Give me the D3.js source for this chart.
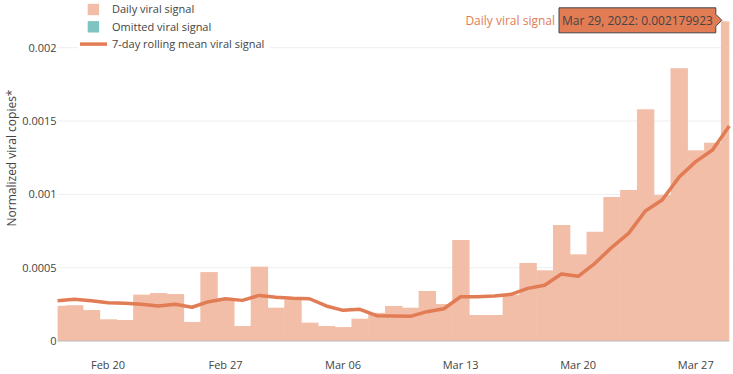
<!DOCTYPE html>
<html>
<head>
<meta charset="utf-8">
<script src="https://cdn.jsdelivr.net/npm/d3@7"></script>
<style>
  body { margin: 0; background: #fff; }
  svg { display: block; font-family: "Open Sans", sans-serif; }
</style>
</head>
<body>
<div id="chart"></div>
<script>
const dates = [
  '2022-02-17', '2022-02-18', '2022-02-19', '2022-02-20', '2022-02-21', '2022-02-22', '2022-02-23',
  '2022-02-24', '2022-02-25', '2022-02-26', '2022-02-27', '2022-02-28', '2022-03-01', '2022-03-02',
  '2022-03-03', '2022-03-04', '2022-03-05', '2022-03-06', '2022-03-07', '2022-03-08', '2022-03-09',
  '2022-03-10', '2022-03-11', '2022-03-12', '2022-03-13', '2022-03-14', '2022-03-15', '2022-03-16',
  '2022-03-17', '2022-03-18', '2022-03-19', '2022-03-20', '2022-03-21', '2022-03-22', '2022-03-23',
  '2022-03-24', '2022-03-25', '2022-03-26', '2022-03-27', '2022-03-28', '2022-03-29'
];

const dailySignal = [
  0.000240, 0.000244, 0.000211, 0.000148, 0.000143, 0.000316, 0.000327,
  0.000320, 0.000130, 0.000470, 0.000285, 0.000102, 0.000507, 0.000227,
  0.000284, 0.000125, 0.000102, 0.000095, 0.000152, 0.000192, 0.000239,
  0.000227, 0.000341, 0.000252, 0.000689, 0.000177, 0.000177, 0.000315,
  0.000532, 0.000482, 0.000791, 0.000591, 0.000745, 0.000982, 0.001030,
  0.001580, 0.000995, 0.001860, 0.001300, 0.001352, 0.002179923
];

const rollingMean = [
  0.000275, 0.000284, 0.000275, 0.000261, 0.000257, 0.000250, 0.000239,
  0.000250, 0.000230, 0.000268, 0.000288, 0.000277, 0.000311, 0.000298,
  0.000291, 0.000288, 0.000239, 0.000209, 0.000216, 0.000173, 0.000170,
  0.000168, 0.000200, 0.000220, 0.000302, 0.000302, 0.000307, 0.000318,
  0.000359, 0.000380, 0.000457, 0.000441, 0.000530, 0.000639, 0.000734,
  0.000886, 0.000961, 0.001116, 0.001223, 0.001302, 0.001466
];

const yTicks = [0, 0.0005, 0.001, 0.0015, 0.002];
const xTicks = ['2022-02-20', '2022-02-27', '2022-03-06', '2022-03-13', '2022-03-20', '2022-03-27'];

const legendItems = ['Daily viral signal', 'Omitted viral signal', '7-day rolling mean viral signal'];

const barColor = '#f2bea8';
const lineColor = '#e27c55';
const omittedColor = '#7fc4c0';
const textColor = '#444';

function drawChart(selector) {
  const width = 733;
  const height = 374;
  const left = 57.6;
  const right = 729.3;
  const bottom = 341;

  const parse = d3.utcParse('%Y-%m-%d');
  const data = dates.map((d, i) => ({
    date: parse(d),
    value: dailySignal[i],
    mean: rollingMean[i]
  }));

  const svg = d3.select(selector).append('svg')
    .attr('width', width)
    .attr('height', height);

  const x = d3.scaleUtc()
    .domain([data[0].date, data[data.length - 1].date])
    .range([left, right]);

  const y = d3.scaleLinear()
    .domain([0, 0.002])
    .range([bottom, 47.7]);

  const dayWidth = x(d3.utcDay.offset(data[0].date, 1)) - x(data[0].date);

  svg.append('clipPath')
    .attr('id', 'plot-clip')
    .append('rect')
    .attr('x', left)
    .attr('y', 0)
    .attr('width', right - left)
    .attr('height', bottom);

  // gridlines
  svg.append('g')
    .selectAll('line')
    .data(yTicks.slice(1))
    .join('line')
    .attr('x1', left)
    .attr('x2', right)
    .attr('y1', d => y(d))
    .attr('y2', d => y(d))
    .attr('stroke', '#eee')
    .attr('stroke-width', 1);

  // bars (a little overlap so no seams show)
  svg.append('g')
    .attr('clip-path', 'url(#plot-clip)')
    .selectAll('rect')
    .data(data)
    .join('rect')
    .attr('x', d => x(d.date) - dayWidth / 2)
    .attr('y', d => y(d.value))
    .attr('width', dayWidth + 0.6)
    .attr('height', d => y(0) - y(d.value))
    .attr('fill', barColor);

  // zero line
  svg.append('line')
    .attr('x1', left)
    .attr('x2', right)
    .attr('y1', y(0))
    .attr('y2', y(0))
    .attr('stroke', '#bbb')
    .attr('stroke-width', 1);

  // rolling mean
  const line = d3.line()
    .x(d => x(d.date))
    .y(d => y(d.mean));

  svg.append('path')
    .datum(data)
    .attr('d', line)
    .attr('fill', 'none')
    .attr('stroke', lineColor)
    .attr('stroke-width', 3.5)
    .attr('stroke-linejoin', 'round');

  // y axis labels
  svg.append('g')
    .selectAll('text')
    .data(yTicks)
    .join('text')
    .attr('x', left - 1)
    .attr('y', d => y(d))
    .attr('dy', '0.35em')
    .attr('text-anchor', 'end')
    .attr('font-size', 11)
    .attr('fill', textColor)
    .text(d => String(d));

  svg.append('text')
    .attr('transform', `translate(16, 158) rotate(-90)`)
    .attr('text-anchor', 'middle')
    .attr('font-size', 12)
    .attr('fill', textColor)
    .text('Normalized viral copies*');

  // x axis labels
  svg.append('g')
    .selectAll('text')
    .data(xTicks.map(parse))
    .join('text')
    .attr('x', d => x(d))
    .attr('y', 369)
    .attr('text-anchor', 'middle')
    .attr('font-size', 11)
    .attr('fill', textColor)
    .text(d3.utcFormat('%b %d'));

  // legend
  const legend = svg.append('g').attr('class', 'legend');
  legend.append('rect')
    .attr('x', 78)
    .attr('y', 0)
    .attr('width', 192)
    .attr('height', 53)
    .attr('fill', '#fff');

  const legendRow = legend.selectAll('g')
    .data(legendItems)
    .join('g')
    .attr('transform', (d, i) => `translate(0, ${9.5 + i * 17.3})`);

  legendRow.filter((d, i) => i < 2)
    .append('rect')
    .attr('x', 87.7)
    .attr('y', -5.7)
    .attr('width', 11.4)
    .attr('height', 11.4)
    .attr('fill', (d, i) => i === 0 ? barColor : omittedColor);

  legendRow.filter((d, i) => i === 2)
    .append('line')
    .attr('x1', 80)
    .attr('x2', 107)
    .attr('y1', 0)
    .attr('y2', 0)
    .attr('stroke', lineColor)
    .attr('stroke-width', 3.5);

  legendRow.append('text')
    .attr('x', 112)
    .attr('y', 0)
    .attr('dy', '0.35em')
    .attr('font-size', 11)
    .attr('fill', textColor)
    .text(d => d);

  // hover label for the last bar
  const last = data[data.length - 1];
  const tipX = x(last.date) - 7.5;
  const tipY = y(last.value) - 1;
  const boxRight = tipX - 6;
  const boxLeft = 559;
  const hover = svg.append('g').attr('class', 'hover');
  hover.append('path')
    .attr('d', `M${tipX},${tipY} L${boxRight},${tipY - 6} V${tipY - 12.5} H${boxLeft} V${tipY + 12.5} H${boxRight} V${tipY + 6} Z`)
    .attr('fill', lineColor)
    .attr('stroke', textColor)
    .attr('stroke-width', 1);
  hover.append('text')
    .attr('x', boxLeft + 3)
    .attr('y', tipY)
    .attr('dy', '0.35em')
    .attr('font-size', 12)
    .attr('fill', textColor)
    .text(`${d3.utcFormat('%b %d, %Y')(last.date)}: ${last.value}`);
  hover.append('text')
    .attr('x', boxLeft - 4)
    .attr('y', tipY)
    .attr('dy', '0.35em')
    .attr('text-anchor', 'end')
    .attr('font-size', 12)
    .attr('fill', lineColor)
    .text('Daily viral signal');
}

drawChart('#chart');
</script>
</body>
</html>
